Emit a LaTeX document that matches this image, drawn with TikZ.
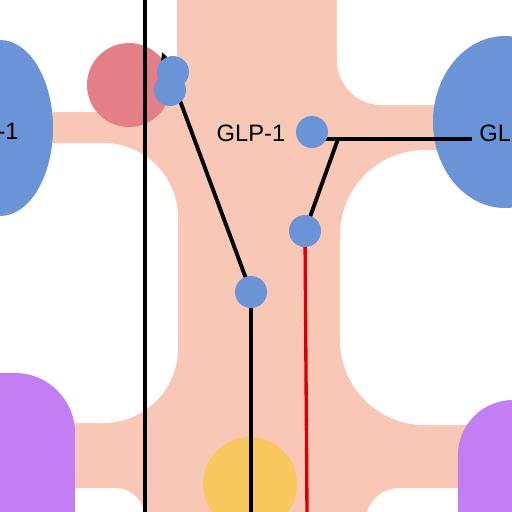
\documentclass[tikz,border=0pt]{standalone}
\usepackage{fontspec}
\setmainfont{Liberation Sans}
\usetikzlibrary{arrows.meta,positioning,calc}
\definecolor{GLPpeach}{HTML}{F9C7B6}
\definecolor{GLPblue}{HTML}{6A93D8}
\definecolor{GLPred}{HTML}{E47F87}
\definecolor{GLPpurple}{HTML}{C27EF2}
\definecolor{GLPyellow}{HTML}{F7C85E}
\pgfdeclarelayer{back}
\pgfdeclarelayer{wires}
\pgfsetlayers{back,wires,main}
\tikzset{
  gap/.style={fill=white},
  dot/.style={circle, fill=GLPblue, inner sep=0pt, minimum size=6.4mm},
  wire/.style={line width=2.2pt, black},
  redwire/.style={line width=1.9pt, red!85!black},
  lbl/.style={font=\fontsize{13.5}{16}\selectfont, inner sep=0pt}
}

\begin{document}
\begin{tikzpicture}[x=0.02cm,y=-0.02cm]
  \useasboundingbox (0,0) rectangle (512,512);
  \clip (0,0) rectangle (512,512);

  \begin{pgfonlayer}{back}
  \fill[GLPpeach] (0,0) rectangle (512,512);
  % white corners round the peach cross
  \fill[gap, rounded corners=0.6cm] (-100,-100) rectangle (177,112);
  \fill[gap, rounded corners=1.5cm] (-100,143) rectangle (178,423);
  \fill[gap, rounded corners=0.6cm] (-100,488) rectangle (145,600);
  \fill[gap, rounded corners=0.9cm] (337,-100) rectangle (600,105);
  \fill[gap, rounded corners=1.7cm] (340,150) rectangle (600,425);
  \fill[gap, rounded corners=0.7cm] (365,488) rectangle (600,600);
  % receptor blobs
  \fill[GLPblue] (0,128) ellipse [x radius=53, y radius=88];
  \fill[GLPblue] (505,122) ellipse [x radius=72, y radius=86];
  \fill[GLPred] (129,85) circle [radius=42];
  \fill[GLPpurple, rounded corners=1.2cm] (-60,373) rectangle (75,600);
  \fill[GLPpurple, rounded corners=1.1cm] (458,400) rectangle (600,600);
  \fill[GLPyellow] (250,484) circle [radius=47];
  \end{pgfonlayer}

  \node[dot] (glp) at (312,132) {};
  \node[dot] (mid) at (305,231) {};
  \node[dot] (low) at (251,292) {};
  \node[dot] (up2) at (170,90) {};
  \node[dot] (up1) at (173,72) {};

  \coordinate (top) at (145,0);
  \coordinate (bot) at (145,512);
  \coordinate (tip) at (162,52);
  \coordinate (j) at (338,139);
  \coordinate (glend) at (472,139);
  \coordinate (dbot) at (low.center |- bot);
  \coordinate (rbot) at (307,512);

  \begin{pgfonlayer}{wires}
  \draw[wire] (top) -- (bot);
  \draw[wire, -{Triangle[length=2.4mm,width=2.2mm]}] (low.center) -- (tip);
  \draw[wire] (low.center) -- (dbot);
  \draw[redwire] (mid.center) -- (rbot);
  \draw[wire] (glp.center |- j) -- (j) -- (glend);
  \draw[wire] (j) -- (mid.center);
  \end{pgfonlayer}

  \node[lbl] (glptext) at (251,133) {GLP-1};
  \node[lbl, anchor=east] (lefttext) at (19,131) {-1};
  \node[lbl, anchor=west] (righttext) at (479,133) {GL};
\end{tikzpicture}
\end{document}
